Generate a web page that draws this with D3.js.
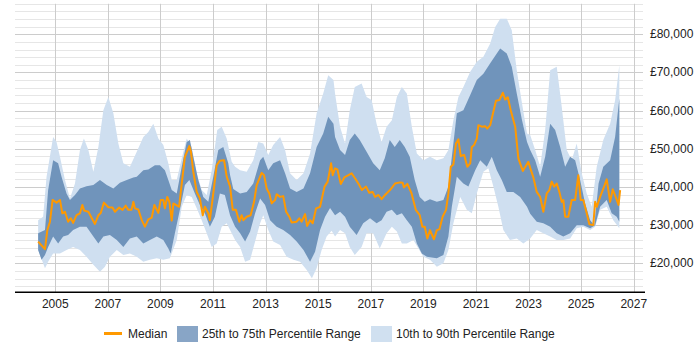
<!DOCTYPE html>
<html>
  <head>
    <style type="text/css">
      body { margin: 0; background: #fff; }
      * {
        font-family: Arial, "Liberation Sans", Helvetica, sans-serif;
        font-size: 12px;
      }
      .ylab, .xlab, .leg { fill: #222; }
    </style>
  </head>

  <body>
    <div id="canvas"></div>

    <script type="text/javascript" src="https://cdn.jsdelivr.net/npm/d3@7/dist/d3.min.js"></script>
    <script type="text/javascript">
      // [decimal year, salary in £000]
      var median = [
        [2004.35,25.7],[2004.61,23.7],[2004.70,28.7],[2004.80,30.9],[2004.90,36.6],[2005.05,35.9],[2005.18,36.6],
        [2005.27,33.1],[2005.37,33.5],[2005.49,30.9],[2005.59,31.8],[2005.68,30.6],[2005.81,32.6],[2005.94,33.1],
        [2006.03,35.3],[2006.10,33.8],[2006.26,33.5],[2006.51,30.3],[2006.64,32.6],[2006.73,33.2],[2006.85,35.9],
        [2007.02,34.7],[2007.18,34.6],[2007.27,33.5],[2007.43,34.6],[2007.56,34.0],[2007.68,35.1],[2007.78,34.0],
        [2007.90,34.0],[2007.97,36.1],[2008.03,34.4],[2008.16,34.1],[2008.29,31.3],[2008.41,29.6],[2008.54,31.5],
        [2008.67,32.0],[2008.77,35.3],[2008.92,33.2],[2009.01,36.6],[2009.11,36.6],[2009.17,34.4],[2009.26,37.4],
        [2009.34,36.1],[2009.43,31.2],[2009.49,35.7],[2009.59,35.3],[2009.71,34.8],[2009.81,40.9],[2009.93,47.9],
        [2010.10,50.7],[2010.16,49.2],[2010.25,44.0],[2010.38,38.7],[2010.50,37.0],[2010.61,32.6],[2010.69,34.8],
        [2010.82,33.1],[2010.88,31.3],[2011.01,38.3],[2011.14,45.7],[2011.26,46.9],[2011.42,47.0],[2011.52,42.7],
        [2011.65,40.1],[2011.75,34.0],[2011.87,34.0],[2012.00,30.9],[2012.09,32.6],[2012.15,31.3],[2012.28,32.2],
        [2012.43,32.6],[2012.56,36.1],[2012.66,40.5],[2012.85,43.7],[2012.94,43.1],[2013.04,39.6],[2013.14,38.3],
        [2013.23,35.7],[2013.36,36.6],[2013.42,38.1],[2013.55,37.4],[2013.67,37.6],[2013.78,33.5],[2013.90,32.2],
        [2013.99,30.7],[2014.18,30.9],[2014.28,31.8],[2014.37,30.9],[2014.50,32.9],[2014.58,29.8],[2014.69,31.3],
        [2014.79,30.5],[2014.92,34.4],[2015.07,34.8],[2015.24,40.1],[2015.36,41.4],[2015.49,46.2],[2015.55,43.1],
        [2015.64,44.9],[2015.73,44.6],[2015.86,40.8],[2015.99,42.5],[2016.15,43.1],[2016.27,43.6],[2016.40,42.3],
        [2016.56,40.5],[2016.66,39.2],[2016.82,40.1],[2016.94,38.5],[2017.07,38.7],[2017.16,37.4],[2017.29,37.9],
        [2017.41,36.8],[2017.54,37.9],[2017.73,39.2],[2017.92,40.9],[2018.11,41.2],[2018.21,41.1],[2018.26,39.9],
        [2018.39,40.8],[2018.55,38.3],[2018.71,34.0],[2018.86,32.6],[2018.96,29.6],[2019.05,29.6],[2019.15,26.5],
        [2019.25,28.7],[2019.40,26.3],[2019.51,28.7],[2019.61,28.9],[2019.73,32.2],[2019.86,34.0],[2019.95,38.3],
        [2020.04,45.3],[2020.14,45.9],[2020.24,51.4],[2020.33,52.5],[2020.42,48.1],[2020.55,48.4],[2020.67,45.3],
        [2020.78,46.2],[2020.84,50.5],[2020.93,51.0],[2021.03,52.7],[2021.09,56.2],[2021.22,55.8],[2021.35,55.9],
        [2021.43,55.3],[2021.54,56.2],[2021.66,59.7],[2021.76,62.6],[2021.89,62.8],[2022.02,64.7],[2022.11,62.9],
        [2022.21,63.5],[2022.32,60.1],[2022.49,55.8],[2022.61,47.5],[2022.78,44.2],[2022.99,46.6],[2023.06,45.0],
        [2023.18,42.5],[2023.31,38.7],[2023.44,37.4],[2023.56,33.5],[2023.69,38.3],[2023.79,39.2],[2023.88,41.4],
        [2023.97,40.1],[2024.07,40.9],[2024.17,38.7],[2024.26,36.1],[2024.32,36.6],[2024.39,32.2],[2024.51,32.2],
        [2024.64,36.6],[2024.77,36.6],[2024.89,43.1],[2024.98,36.6],[2025.08,36.6],[2025.21,33.1],[2025.31,30.2],
        [2025.46,30.0],[2025.53,36.1],[2025.59,34.8],[2025.72,37.4],[2025.87,40.1],[2025.97,42.0],[2026.10,36.1],
        [2026.20,39.4],[2026.30,37.6],[2026.42,35.3],[2026.48,39.2]
      ];

      var p90 = [
        [2004.35,31.3],[2004.54,32.2],[2004.67,42.7],[2004.92,53.1],[2005.05,51.8],[2005.18,47.9],[2005.37,41.8],
        [2005.56,37.0],[2005.75,40.9],[2005.94,49.7],[2006.09,52.7],[2006.26,49.7],[2006.45,44.0],[2006.64,50.5],
        [2006.83,60.1],[2007.02,63.6],[2007.21,59.3],[2007.40,51.4],[2007.59,46.2],[2007.84,45.3],[2008.10,49.2],
        [2008.35,53.1],[2008.54,54.4],[2008.73,56.6],[2008.92,52.7],[2009.11,51.0],[2009.30,46.2],[2009.43,41.8],
        [2009.62,41.8],[2009.81,47.5],[2010.00,52.7],[2010.19,50.5],[2010.38,43.6],[2010.57,39.2],[2010.76,37.9],
        [2010.95,44.4],[2011.16,54.9],[2011.33,55.8],[2011.52,52.7],[2011.71,46.6],[2011.84,45.3],[2012.03,44.4],
        [2012.28,44.0],[2012.53,47.0],[2012.72,51.8],[2012.91,51.4],[2013.10,48.4],[2013.29,51.0],[2013.55,53.1],
        [2013.74,49.7],[2013.93,43.6],[2014.18,41.8],[2014.44,43.6],[2014.69,48.8],[2014.94,59.3],[2015.19,64.5],
        [2015.38,69.3],[2015.58,68.0],[2015.64,64.5],[2015.83,55.8],[2016.02,51.4],[2016.20,60.1],[2016.39,66.2],
        [2016.65,67.1],[2016.84,63.6],[2017.03,62.8],[2017.22,56.6],[2017.41,51.8],[2017.60,55.8],[2017.80,57.5],
        [2017.99,63.6],[2018.18,66.2],[2018.37,64.5],[2018.56,55.8],[2018.75,48.8],[2019.00,47.0],[2019.25,47.9],
        [2019.51,47.0],[2019.76,47.5],[2019.95,49.7],[2020.14,57.5],[2020.33,63.6],[2020.52,66.2],[2020.78,70.2],
        [2021.03,72.8],[2021.28,74.1],[2021.54,77.6],[2021.73,81.9],[2021.92,84.1],[2022.17,84.1],[2022.36,81.1],
        [2022.55,70.6],[2022.75,61.9],[2022.94,54.0],[2023.06,53.6],[2023.25,49.7],[2023.44,45.3],[2023.63,54.9],
        [2023.82,70.6],[2024.07,71.5],[2024.26,61.0],[2024.45,49.7],[2024.64,47.0],[2024.83,51.4],[2025.02,43.6],
        [2025.21,38.3],[2025.40,34.8],[2025.59,45.3],[2025.84,52.3],[2026.10,56.6],[2026.29,62.7],[2026.45,71.9]
      ];

      var p75 = [
        [2004.35,27.9],[2004.61,28.7],[2004.73,39.2],[2004.92,47.0],[2005.11,46.2],[2005.24,42.7],[2005.43,38.3],
        [2005.56,36.6],[2005.75,37.9],[2005.94,39.6],[2006.19,40.2],[2006.45,40.5],[2006.70,41.8],[2006.96,40.5],
        [2007.21,39.6],[2007.46,41.1],[2007.72,41.8],[2007.97,42.5],[2008.10,42.7],[2008.35,44.4],[2008.54,44.6],
        [2008.79,45.7],[2008.98,45.7],[2009.17,44.4],[2009.30,41.8],[2009.43,39.2],[2009.62,38.3],[2009.81,45.3],
        [2010.00,51.8],[2010.12,52.3],[2010.25,47.9],[2010.44,41.8],[2010.63,37.4],[2010.82,36.1],[2011.01,42.7],
        [2011.20,49.7],[2011.39,50.5],[2011.58,46.2],[2011.65,43.1],[2011.77,39.5],[2012.03,38.3],[2012.28,38.7],
        [2012.53,40.9],[2012.79,47.0],[2012.91,47.9],[2013.10,44.4],[2013.29,46.2],[2013.55,47.0],[2013.74,43.6],
        [2013.93,39.6],[2014.18,38.7],[2014.44,39.6],[2014.69,43.6],[2014.94,50.5],[2015.19,54.0],[2015.38,58.4],
        [2015.58,56.6],[2015.64,53.1],[2015.83,49.7],[2016.02,48.4],[2016.20,52.3],[2016.39,54.0],[2016.58,52.3],
        [2016.84,49.2],[2017.09,46.2],[2017.34,44.4],[2017.53,47.5],[2017.72,52.3],[2017.91,50.5],[2018.10,52.3],
        [2018.29,50.5],[2018.48,47.9],[2018.67,41.8],[2018.86,37.4],[2019.05,36.1],[2019.25,36.8],[2019.51,36.1],
        [2019.76,36.6],[2019.95,40.1],[2020.14,51.4],[2020.27,59.3],[2020.52,60.1],[2020.78,64.1],[2021.03,68.0],
        [2021.28,69.7],[2021.54,72.4],[2021.79,75.0],[2021.92,76.3],[2022.17,75.0],[2022.36,71.5],[2022.55,64.5],
        [2022.75,57.5],[2022.94,51.8],[2023.06,49.7],[2023.25,47.0],[2023.44,42.7],[2023.63,47.9],[2023.82,56.6],
        [2024.01,54.9],[2024.20,50.5],[2024.39,45.3],[2024.58,47.9],[2024.77,47.0],[2024.96,41.8],[2025.15,35.7],
        [2025.34,31.3],[2025.50,30.0],[2025.66,40.9],[2025.84,45.3],[2026.10,47.0],[2026.29,53.1],[2026.45,63.2]
      ];

      var p25 = [
        [2004.35,23.5],[2004.48,20.9],[2004.61,22.2],[2004.73,24.3],[2004.92,27.0],[2005.11,25.2],[2005.30,27.0],
        [2005.49,27.4],[2005.68,28.7],[2005.94,29.6],[2006.19,29.6],[2006.45,27.0],[2006.64,25.2],[2006.83,27.0],
        [2007.08,27.4],[2007.34,26.1],[2007.59,24.3],[2007.84,26.5],[2008.10,27.0],[2008.35,25.2],[2008.60,26.1],
        [2008.86,27.0],[2009.11,26.1],[2009.30,23.9],[2009.39,22.6],[2009.55,27.9],[2009.74,34.0],[2009.93,40.5],
        [2010.10,41.8],[2010.31,38.3],[2010.50,35.3],[2010.69,33.1],[2010.88,29.6],[2011.07,32.2],[2011.26,38.3],
        [2011.45,37.9],[2011.65,32.5],[2011.84,29.6],[2012.03,27.9],[2012.22,25.7],[2012.41,28.3],[2012.60,33.1],
        [2012.79,37.0],[2012.98,35.3],[2013.17,31.3],[2013.42,29.6],[2013.67,28.7],[2013.93,27.4],[2014.18,25.7],
        [2014.44,23.5],[2014.69,20.4],[2014.88,23.0],[2015.07,28.7],[2015.26,32.2],[2015.45,34.5],[2015.64,32.6],
        [2015.83,33.5],[2016.02,32.2],[2016.20,29.6],[2016.46,27.4],[2016.71,30.5],[2016.97,31.8],[2017.22,30.5],
        [2017.41,31.3],[2017.60,33.5],[2017.80,34.0],[2017.99,32.6],[2018.18,33.1],[2018.37,31.3],[2018.56,29.6],
        [2018.75,25.2],[2018.94,22.6],[2019.13,21.7],[2019.32,21.5],[2019.51,21.3],[2019.76,22.2],[2019.95,27.0],
        [2020.08,34.8],[2020.27,42.7],[2020.52,40.9],[2020.71,40.1],[2020.97,44.4],[2021.16,47.0],[2021.41,45.3],
        [2021.60,47.9],[2021.79,44.4],[2021.98,41.8],[2022.17,38.7],[2022.42,38.7],[2022.68,37.4],[2022.94,34.8],
        [2023.06,33.0],[2023.31,30.9],[2023.56,30.5],[2023.82,29.6],[2024.07,27.9],[2024.32,27.0],[2024.58,27.9],
        [2024.83,30.0],[2025.08,30.0],[2025.34,29.2],[2025.53,30.0],[2025.72,34.8],[2025.97,36.6],[2026.16,33.1],
        [2026.35,32.2],[2026.45,30.9]
      ];

      var p10 = [
        [2004.35,23.5],[2004.61,18.7],[2004.73,20.4],[2004.92,22.6],[2005.18,22.6],[2005.43,23.5],[2005.68,24.3],
        [2005.94,23.5],[2006.19,21.7],[2006.45,19.6],[2006.70,17.8],[2006.89,19.1],[2007.08,21.7],[2007.34,23.5],
        [2007.59,22.2],[2007.84,22.6],[2008.10,21.7],[2008.35,20.4],[2008.60,20.9],[2008.86,21.3],[2009.11,20.9],
        [2009.36,21.3],[2009.62,26.1],[2009.81,34.8],[2010.00,37.9],[2010.19,37.4],[2010.38,34.4],[2010.57,31.3],
        [2010.76,27.9],[2010.95,24.3],[2011.14,25.2],[2011.33,29.6],[2011.52,30.5],[2011.71,27.9],[2011.84,26.1],
        [2012.03,24.3],[2012.22,20.4],[2012.41,20.9],[2012.60,25.7],[2012.79,30.5],[2012.91,32.6],[2013.10,28.7],
        [2013.29,25.7],[2013.55,24.8],[2013.80,21.7],[2014.06,20.9],[2014.31,20.4],[2014.57,18.2],[2014.76,16.1],
        [2014.94,18.7],[2015.13,23.5],[2015.32,27.0],[2015.51,28.5],[2015.64,27.0],[2015.83,28.7],[2016.02,27.9],
        [2016.20,24.3],[2016.39,22.2],[2016.65,24.3],[2016.84,27.9],[2017.09,27.9],[2017.34,23.9],[2017.60,27.9],
        [2017.80,29.6],[2017.99,28.3],[2018.18,25.2],[2018.37,25.2],[2018.62,26.1],[2018.81,23.9],[2019.00,21.7],
        [2019.25,20.9],[2019.51,19.1],[2019.76,20.0],[2019.95,23.5],[2020.14,30.5],[2020.40,37.4],[2020.65,34.0],
        [2020.84,33.1],[2021.03,38.3],[2021.28,44.0],[2021.47,44.9],[2021.66,40.1],[2021.85,34.8],[2022.04,28.7],
        [2022.29,26.1],[2022.55,26.5],[2022.80,25.2],[2023.06,26.5],[2023.31,28.7],[2023.56,27.9],[2023.82,27.0],
        [2024.07,26.1],[2024.32,26.1],[2024.58,26.5],[2024.83,29.2],[2025.08,29.6],[2025.34,28.7],[2025.53,29.6],
        [2025.72,34.0],[2025.97,34.8],[2026.22,31.3],[2026.45,29.2]
      ];

      var yearTicks = [2005, 2007, 2009, 2011, 2013, 2015, 2017, 2019, 2021, 2023, 2025, 2027];
      var salaryTicks = [20000, 30000, 40000, 50000, 60000, 70000, 80000];

      (function() {
        var width = 700, height = 350;
        var left = 15, right = 643, top = 3.8, bottom = 292.3;

        var svg = d3.select('#canvas').append('svg')
                    .attr('width', width)
                    .attr('height', height);

        var x = d3.scaleLinear().domain([2003.47, 2027.35]).range([left, right]);
        var y = d3.scaleLinear().domain([12400, 88000]).range([bottom, top]);

        // horizontal grid, every £2k, darker on the £10k lines
        var grid = d3.range(14000, 88001, 2000);
        svg.append('g').selectAll('line')
            .data(grid)
          .enter().append('line')
            .attr('x1', left).attr('x2', right)
            .attr('y1', function (d) { return Math.round(y(d)) + 0.5; })
            .attr('y2', function (d) { return Math.round(y(d)) + 0.5; })
            .attr('stroke', function (d) { return d % 10000 === 0 ? '#cccccc' : '#e6e6e6'; })
            .attr('stroke-width', 1);

        svg.append('g').selectAll('line')
            .data(yearTicks)
          .enter().append('line')
            .attr('x1', function (d) { return Math.round(x(d)) + 0.5; })
            .attr('x2', function (d) { return Math.round(x(d)) + 0.5; })
            .attr('y1', top).attr('y2', bottom)
            .attr('stroke', '#cccccc');

        var line = d3.line()
            .x(function (d) { return x(d[0]); })
            .y(function (d) { return y(d[1] * 1000); });

        var band = function (hi, lo) {
          return line(hi.concat(lo.slice().reverse())) + 'Z';
        };

        svg.append('path').attr('d', band(p90, p10)).attr('fill', '#cfdff0');
        svg.append('path').attr('d', band(p75, p25)).attr('fill', '#7094bb');

        svg.append('path')
            .attr('d', line(median))
            .attr('fill', 'none')
            .attr('stroke', '#ff9900')
            .attr('stroke-width', 2)
            .attr('stroke-linejoin', 'round');

        // axis line
        svg.append('line')
            .attr('x1', left).attr('x2', right + 2)
            .attr('y1', bottom).attr('y2', bottom)
            .attr('stroke', '#000').attr('stroke-width', 1.5);

        svg.append('g').selectAll('text')
            .data(yearTicks)
          .enter().append('text')
            .attr('class', 'xlab')
            .attr('x', function (d) { return x(d); })
            .attr('y', 308)
            .attr('text-anchor', 'middle')
            .text(function (d) { return d; });

        var fmt = d3.format(',');
        svg.append('g').selectAll('text')
            .data(salaryTicks)
          .enter().append('text')
            .attr('class', 'ylab')
            .attr('x', 650)
            .attr('y', function (d) { return y(d) + 4; })
            .text(function (d) { return '£' + fmt(d); });

        // legend
        var leg = svg.append('g');
        leg.append('line').attr('x1', 104).attr('x2', 122).attr('y1', 333.5).attr('y2', 333.5)
            .attr('stroke', '#ff9900').attr('stroke-width', 3);
        leg.append('text').attr('class', 'leg').attr('x', 128).attr('y', 338).text('Median');
        leg.append('rect').attr('x', 177).attr('y', 326).attr('width', 21).attr('height', 16).attr('fill', '#88a5c6');
        leg.append('text').attr('class', 'leg').attr('x', 202).attr('y', 338).text('25th to 75th Percentile Range');
        leg.append('rect').attr('x', 371).attr('y', 326).attr('width', 21).attr('height', 16).attr('fill', '#d0e0f0');
        leg.append('text').attr('class', 'leg').attr('x', 396).attr('y', 338).text('10th to 90th Percentile Range');
      })();
    </script>
  </body>
</html>
